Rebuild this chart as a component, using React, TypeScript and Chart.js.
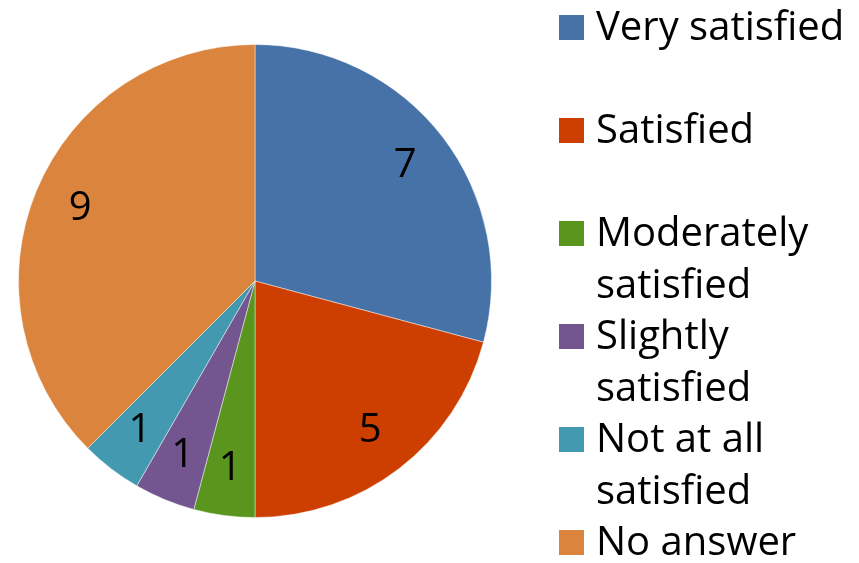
import React, { useEffect, useRef } from "react";
import { Chart, registerables } from "chart.js";

Chart.register(...registerables);

const categories = [
  "Very satisfied",
  "Satisfied",
  "Moderately satisfied",
  "Slightly satisfied",
  "Not at all satisfied",
  "No answer",
];
const values = [7, 5, 1, 1, 1, 9];
const legendLines = [
  ["Very satisfied", ""],
  ["Satisfied", ""],
  ["Moderately", "satisfied"],
  ["Slightly", "satisfied"],
  ["Not at all", "satisfied"],
  ["No answer"],
];
const colors = ["#4672A8", "#CC3F00", "#5A961E", "#735590", "#4299B0", "#DB843D"];

const FONT = "40px 'Open Sans'";

const labelPlugin = {
  id: "sliceLabels",
  afterDatasetsDraw(chart: any) {
    const ctx = chart.ctx;
    const meta = chart.getDatasetMeta(0);
    ctx.save();
    ctx.font = FONT;
    ctx.fillStyle = "#000";
    ctx.textAlign = "center";
    ctx.textBaseline = "middle";
    meta.data.forEach((arc: any, i: number) => {
      const mid = (arc.startAngle + arc.endAngle) / 2;
      const r = arc.outerRadius * 0.8;
      const x = arc.x + Math.cos(mid) * r;
      const y = arc.y + Math.sin(mid) * r;
      ctx.fillText(String(values[i]), x, y);
    });
    ctx.restore();
  },
};

const legendPlugin = {
  id: "customLegend",
  afterDraw(chart: any) {
    const ctx = chart.ctx;
    ctx.save();
    ctx.font = FONT;
    ctx.textAlign = "left";
    ctx.textBaseline = "alphabetic";
    const lineH = 51.5;
    let baseline = 40;
    legendLines.forEach((lines, i) => {
      ctx.fillStyle = colors[i];
      ctx.fillRect(559, baseline - 25, 25, 25);
      ctx.fillStyle = "#000";
      lines.forEach((t, j) => {
        if (t) ctx.fillText(t, 596, baseline + j * lineH);
      });
      baseline += lines.length * lineH;
    });
    ctx.restore();
  },
};

export default function App() {
  const ref = useRef<HTMLCanvasElement>(null);
  useEffect(() => {
    document.body.style.margin = "0";
    const chart = new Chart(ref.current!, {
      type: "pie",
      data: {
        labels: categories,
        datasets: [
          {
            data: values,
            backgroundColor: colors,
            borderColor: "rgba(255,255,255,0.45)",
            borderWidth: 1,
          },
        ],
      },
      options: {
        animation: false,
        responsive: false,
        layout: { padding: { left: 18, right: 367, top: 44, bottom: 45 } },
        plugins: {
          legend: { display: false },
          tooltip: { enabled: false },
        },
      },
      plugins: [labelPlugin, legendPlugin],
    });
    return () => chart.destroy();
  }, []);
  return <canvas ref={ref} width={859} height={563} style={{ display: "block" }} />;
}
